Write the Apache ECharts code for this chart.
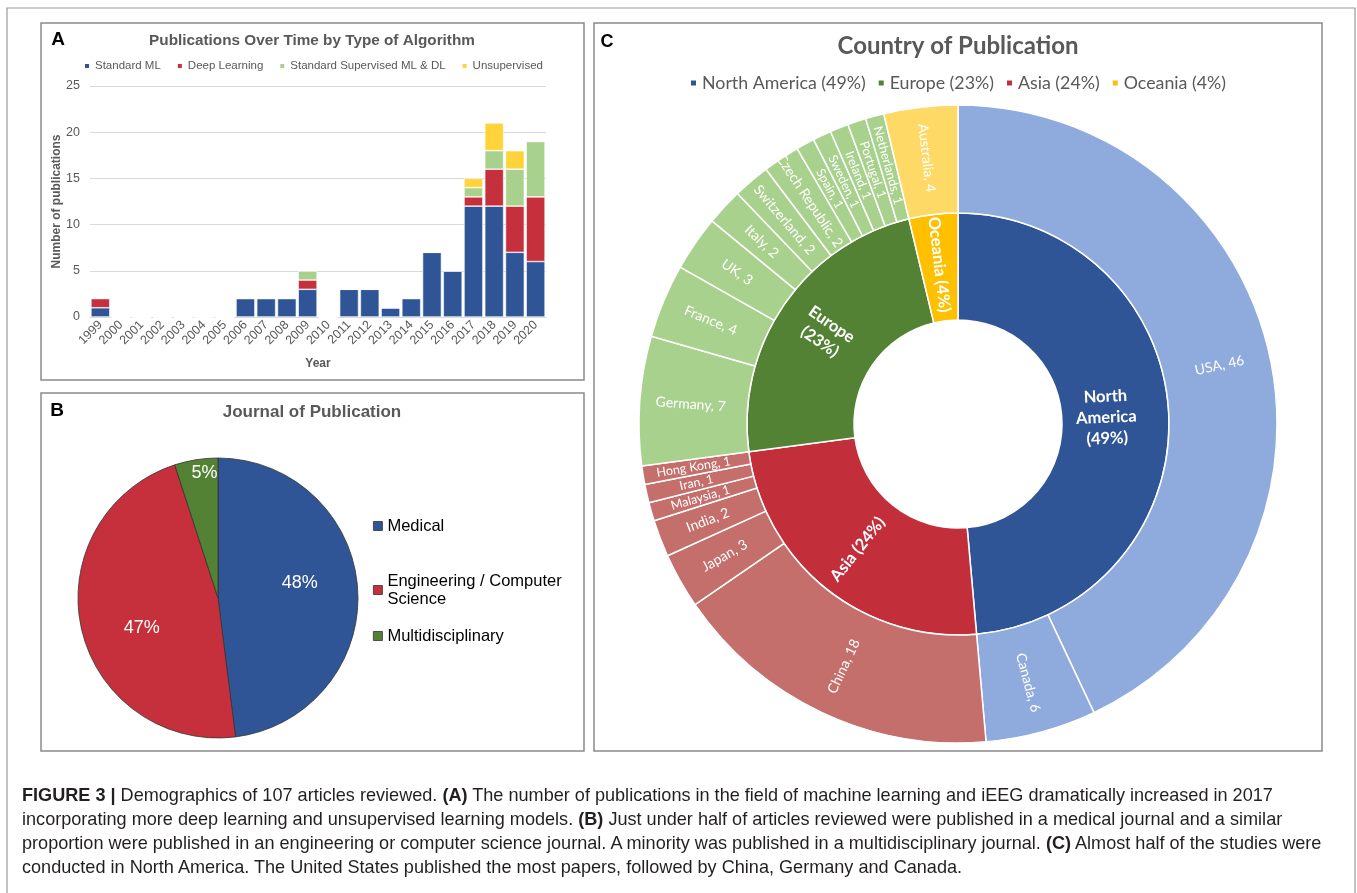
<!DOCTYPE html>
<html>
<head>
<meta charset="utf-8">
<title>Figure 3</title>
<script src="https://cdn.jsdelivr.net/npm/echarts@6/dist/echarts.min.js"></script>
<style>
  html, body { margin: 0; padding: 0; background: #fff; }
  #main { position: absolute; left: 0; top: 0; width: 1357px; height: 893px; }
  .caption {
    position: absolute; left: 22px; top: 783px;
    font-family: "Liberation Sans", Arial, sans-serif;
    font-size: 18.1px; line-height: 24px; color: #231f20; white-space: nowrap;
  }
</style>
</head>
<body>
<div id="main"></div>
<div class="caption">
  <div><b>FIGURE 3 |</b> Demographics of 107 articles reviewed. <b>(A)</b> The number of publications in the field of machine learning and iEEG dramatically increased in 2017</div>
  <div>incorporating more deep learning and unsupervised learning models. <b>(B)</b> Just under half of articles reviewed were published in a medical journal and a similar</div>
  <div>proportion were published in an engineering or computer science journal. A minority was published in a multidisciplinary journal. <b>(C)</b> Almost half of the studies were</div>
  <div>conducted in North America. The United States published the most papers, followed by China, Germany and Canada.</div>
</div>
<script>
// panel A
const years = ['1999', '2000', '2001', '2002', '2003', '2004', '2005', '2006', '2007', '2008', '2009',
  '2010', '2011', '2012', '2013', '2014', '2015', '2016', '2017', '2018', '2019', '2020'];
const standardML   = [1, 0, 0, 0, 0, 0, 0, 2, 2, 2, 3, 0, 3, 3, 1, 2, 7, 5, 12, 12, 7, 6];
const deepLearning = [1, 0, 0, 0, 0, 0, 0, 0, 0, 0, 1, 0, 0, 0, 0, 0, 0, 0, 1, 4, 5, 7];
const supervisedMLDL = [0, 0, 0, 0, 0, 0, 0, 0, 0, 0, 1, 0, 0, 0, 0, 0, 0, 0, 1, 2, 4, 6];
const unsupervised = [0, 0, 0, 0, 0, 0, 0, 0, 0, 0, 0, 0, 0, 0, 0, 0, 0, 0, 1, 3, 2, 0];
const yTicks = [0, 5, 10, 15, 20, 25];

// panel B (percent)
const journals = ['Medical', 'Engineering / Computer\nScience', 'Multidisciplinary'];
const journalPct = [48, 47, 5];

// panel C
const regions = ['North America', 'Asia', 'Europe', 'Oceania'];
const regionLabelText = ['North\nAmerica\n', 'Asia ', 'Europe\n', 'Oceania '];
const countries = ['USA', 'Canada', 'China', 'Japan', 'India', 'Malaysia', 'Iran', 'Hong Kong',
  'Germany', 'France', 'UK', 'Italy', 'Switzerland', 'Czech Republic', 'Spain', 'Sweden',
  'Ireland', 'Portugal', 'Netherlands', 'Australia'];
const countryCounts = [46, 6, 18, 3, 2, 1, 1, 1, 7, 4, 3, 2, 2, 2, 1, 1, 1, 1, 1, 4];
const countryRegion = [0, 0, 1, 1, 1, 1, 1, 1, 2, 2, 2, 2, 2, 2, 2, 2, 2, 2, 2, 3];

const regionColors = ['#2F5597', '#C32E3B', '#548235', '#FFC000'];
const countryColors = ['#8FAADC', '#C46F6B', '#A9D18E', '#FFD966'];

const regionTotals = regions.map((r, i) =>
  countryCounts.reduce((s, v, k) => s + (countryRegion[k] === i ? v : 0), 0));
const grandTotal = regionTotals.reduce((a, b) => a + b, 0);
const regionPct = regionTotals.map(v => Math.round(v / grandTotal * 100));

const gray = '#595959';
const arial = '"Liberation Sans", Arial, sans-serif';
const lato = 'Lato, "Open Sans", sans-serif';

const chart = echarts.init(document.getElementById('main'));

function barSeries(name, data, color) {
  return {
    name: name, type: 'bar', stack: 'all', data: data,
    barCategoryGap: '9%',
    itemStyle: { color: color, borderColor: '#fff', borderWidth: 0.6 },
    emphasis: { disabled: true }
  };
}

function titleText(text, x, y, font, color) {
  return {
    type: 'text', x: x, y: y, silent: true,
    style: { text: text, font: font, fill: color, textAlign: 'center', align: 'center',
      textVerticalAlign: 'middle', verticalAlign: 'middle' }
  };
}

function frame(x, y, w, h, color, lw) {
  return {
    type: 'rect', silent: true, z: -1,
    shape: { x: x, y: y, width: w, height: h },
    style: { fill: 'none', stroke: color, lineWidth: lw }
  };
}

const option = {
  animation: false,
  graphic: [
    frame(7, 8, 1348, 900, '#9a9a9a', 1.2),
    frame(41, 23, 543, 357, '#8a8a8a', 1.5),
    frame(41, 393, 543, 358, '#8a8a8a', 1.5),
    frame(594, 23, 728, 728, '#8a8a8a', 1.5),
    titleText('A', 58, 40, 'bold 19px ' + arial, '#000'),
    titleText('B', 57, 411, 'bold 19px ' + arial, '#000'),
    titleText('C', 607, 42, 'bold 18px ' + arial, '#000'),
    titleText('Publications Over Time by Type of Algorithm', 312, 41, 'bold 15.3px ' + arial, gray),
    titleText('Journal of Publication', 312, 412, 'bold 17px ' + arial, gray),
    titleText('Country of Publication', 958, 46, 'bold 24px ' + lato, gray)
  ],
  legend: [
    {
      data: ['Standard ML', 'Deep Learning', 'Standard Supervised ML & DL', 'Unsupervised'],
      left: 78, top: 55, itemWidth: 6, itemHeight: 6, itemGap: 15, icon: 'rect',
      textStyle: { fontFamily: arial, fontSize: 11.5, color: gray }
    },
    {
      data: [journals[0], journals[1]], orient: 'vertical',
      left: 368, top: 512, itemWidth: 9, itemHeight: 9, itemGap: 37, icon: 'rect',
      itemStyle: { borderColor: '#333', borderWidth: 0.8 },
      textStyle: { fontFamily: arial, fontSize: 16.5, color: '#000', lineHeight: 18 }
    },
    {
      data: [journals[2]], orient: 'vertical',
      left: 368, top: 622, itemWidth: 9, itemHeight: 9, icon: 'rect',
      itemStyle: { borderColor: '#333', borderWidth: 0.8 },
      textStyle: { fontFamily: arial, fontSize: 16.5, color: '#000', lineHeight: 18 }
    },
    {
      data: ['North America', 'Europe', 'Asia', 'Oceania'],
      left: 684, top: 69, itemWidth: 7, itemHeight: 7, itemGap: 11, icon: 'rect',
      formatter: name => name + ' (' + regionPct[regions.indexOf(name)] + '%)',
      textStyle: { fontFamily: lato, fontSize: 17.8, color: gray }
    }
  ],
  grid: { left: 90, right: 811, top: 86, bottom: 576, containLabel: false, outerBoundsMode: 'none' },
  xAxis: {
    type: 'category', data: years,
    name: 'Year', nameLocation: 'middle', nameGap: 41,
    nameTextStyle: { fontFamily: arial, fontSize: 12, fontWeight: 'bold', color: gray },
    axisLine: { lineStyle: { color: '#d9d9d9' } },
    axisTick: { show: false },
    axisLabel: { rotate: 45, fontFamily: arial, fontSize: 12.5, color: gray, margin: 6, interval: 0 }
  },
  yAxis: {
    type: 'value', min: yTicks[0], max: yTicks[yTicks.length - 1], interval: 5,
    name: 'Number of publications', nameLocation: 'middle', nameGap: 24, nameRotate: 90,
    nameTextStyle: { fontFamily: arial, fontSize: 12, fontWeight: 'bold', color: gray },
    axisLine: { show: false }, axisTick: { show: false },
    splitLine: { lineStyle: { color: '#d9d9d9' } },
    axisLabel: { fontFamily: arial, fontSize: 12.5, color: gray, margin: 10 }
  },
  series: [
    barSeries('Standard ML', standardML, '#2F5597'),
    barSeries('Deep Learning', deepLearning, '#C5303C'),
    barSeries('Standard Supervised ML & DL', supervisedMLDL, '#A9D18E'),
    barSeries('Unsupervised', unsupervised, '#FFD43B'),
    {
      name: 'Journal', type: 'pie', center: [218, 598], radius: 140,
      startAngle: 90, clockwise: true, avoidLabelOverlap: false,
      emphasis: { disabled: true },
      itemStyle: { borderColor: '#333', borderWidth: 0.8 },
      label: { position: 'inside', formatter: '{c}%', color: '#fff', fontFamily: arial, fontSize: 18,
        textBorderWidth: 0 },
      labelLine: { show: false },
      labelLayout: p => [{ dx: 9, dy: -10 }, { dx: -5, dy: 14 }, { dx: -2, dy: -53 }][p.dataIndex],
      data: journals.map((n, i) => ({
        name: n, value: journalPct[i],
        itemStyle: { color: ['#2F5597', '#C5303C', '#548235'][i] }
      }))
    },
    {
      name: 'Region', type: 'pie', center: [958, 424], radius: [104, 211],
      startAngle: 90, clockwise: true, avoidLabelOverlap: false, minShowLabelAngle: 0,
      emphasis: { disabled: true },
      itemStyle: { borderColor: '#fff', borderWidth: 1.5 },
      label: {
        position: 'inside', rotate: 'radial', color: '#fff', fontFamily: lato,
        fontSize: 16.5, fontWeight: 'bold', lineHeight: 21, textBorderWidth: 0,
        formatter: p => regionLabelText[p.dataIndex] + '(' + regionPct[p.dataIndex] + '%)'
      },
      labelLine: { show: false },
      labelLayout: p => (p.dataIndex === 0 ? { dx: -12 } : {}),
      data: regions.map((n, i) => ({ name: n, value: regionTotals[i], itemStyle: { color: regionColors[i] } }))
    },
    {
      name: 'Country', type: 'pie', center: [958, 424], radius: [211, 319],
      startAngle: 90, clockwise: true, avoidLabelOverlap: false, minShowLabelAngle: 0,
      emphasis: { disabled: true },
      itemStyle: { borderColor: '#fff', borderWidth: 1.5 },
      label: {
        position: 'inside', rotate: 'radial', color: '#fff', fontFamily: lato,
        fontSize: 14, textBorderWidth: 0, formatter: '{b}, {c}'
      },
      labelLine: { show: false },
      data: countries.map((n, i) => ({
        name: n, value: countryCounts[i],
        itemStyle: { color: countryColors[countryRegion[i]] },
        label: { fontSize: countryCounts[i] === 1 ? 12.5 : 14 }
      }))
    }
  ]
};

chart.setOption(option);
</script>
</body>
</html>
